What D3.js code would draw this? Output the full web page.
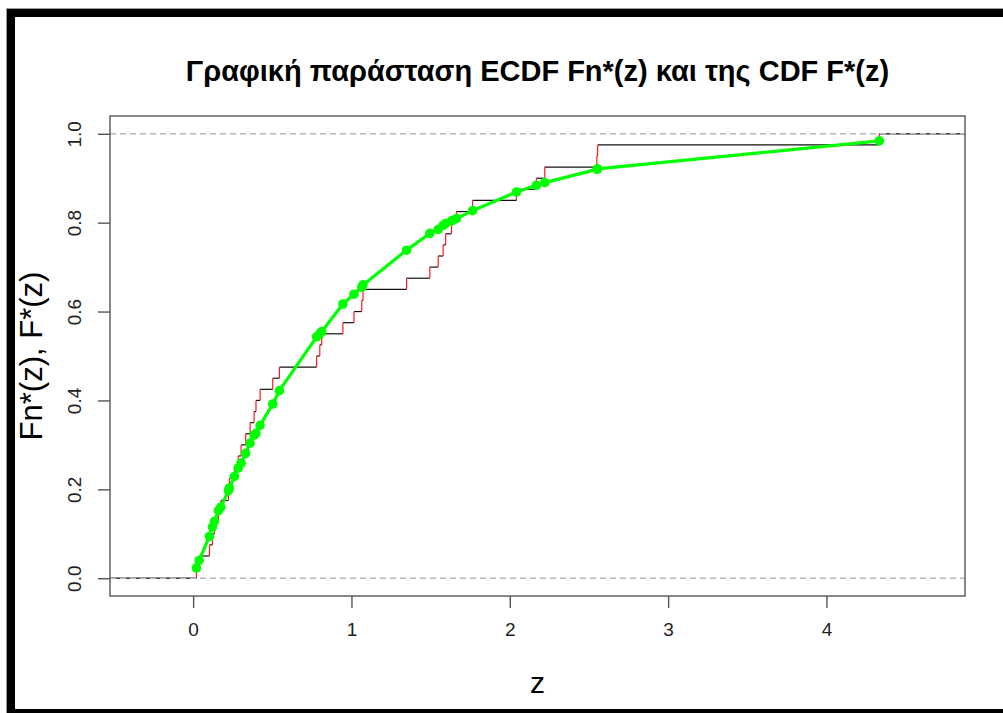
<!DOCTYPE html>
<html>
<head>
<meta charset="utf-8">
<script src="https://cdn.jsdelivr.net/npm/d3@7"></script>
<style>
  html, body { margin: 0; padding: 0; background: #fff; }
  svg { display: block; font-family: "Liberation Sans", Arial, sans-serif; }
</style>
</head>
<body>
<svg id="chart" width="1003" height="713"></svg>
<script>
// Sorted sample z and the fitted CDF F*(z) at each sample point
const sampleZ = [0.021, 0.038, 0.103, 0.122, 0.135, 0.160, 0.175, 0.223, 0.229, 0.261,
                 0.285, 0.303, 0.332, 0.360, 0.385, 0.397, 0.423, 0.503, 0.545, 0.780,
                 0.800, 0.812, 0.946, 1.016, 1.065, 1.073, 1.348, 1.495, 1.548, 1.579,
                 1.595, 1.632, 1.663, 1.765, 2.042, 2.168, 2.221, 2.550, 2.555, 4.334];
const cdfValues = [0.023, 0.040, 0.094, 0.115, 0.128, 0.152, 0.160, 0.197, 0.203, 0.229,
                   0.248, 0.259, 0.281, 0.304, 0.322, 0.326, 0.344, 0.392, 0.422, 0.543,
                   0.550, 0.555, 0.617, 0.639, 0.655, 0.660, 0.738, 0.776, 0.785, 0.794,
                   0.798, 0.804, 0.809, 0.827, 0.869, 0.884, 0.890, 0.920, 0.921, 0.984];
const xTicks = [0, 1, 2, 3, 4];
const yTicks = [0, 0.2, 0.4, 0.6, 0.8, 1.0];
const yTickLabels = ["0.0", "0.2", "0.4", "0.6", "0.8", "1.0"];
const refLevels = [0, 1];

const titleText = "Γραφική παράσταση ECDF Fn*(z) και της CDF F*(z)";
const xLabel = "z";
const yLabel = "Fn*(z), F*(z)";

const svg = d3.select("#chart");
const plot = { left: 110, right: 965, top: 116, bottom: 596 };

// outer frame
svg.append("rect").attr("x", 6.5).attr("y", 8.5).attr("width", 1100).attr("height", 800)
  .attr("fill", "none").attr("stroke", "#9a9a9a").attr("stroke-width", 1);
svg.append("rect").attr("x", 11).attr("y", 13).attr("width", 1100).attr("height", 700)
  .attr("fill", "#fff").attr("stroke", "#000").attr("stroke-width", 8);

const x = d3.scaleLinear().domain([-0.525, 4.875]).range([plot.left, plot.right]);
const y = d3.scaleLinear().domain([-0.04, 1.04]).range([plot.bottom, plot.top]);

svg.append("clipPath").attr("id", "plotClip").append("rect")
  .attr("x", plot.left).attr("y", plot.top)
  .attr("width", plot.right - plot.left).attr("height", plot.bottom - plot.top);

const g = svg.append("g").attr("clip-path", "url(#plotClip)");

// empirical CDF: horizontal steps
const n = sampleZ.length;
const [x0, x1] = x.domain();
const edges = [x0 - 1].concat(sampleZ, [x1 + 1]);
const steps = d3.range(n + 1).map(i => ({ a: edges[i], b: edges[i + 1], level: i / n }));
g.selectAll("line.step").data(steps).join("line").attr("class", "step")
  .attr("x1", d => x(d.a)).attr("x2", d => x(d.b))
  .attr("y1", d => y(d.level)).attr("y2", d => y(d.level))
  .attr("stroke", "#111").attr("stroke-width", 1.2);

// vertical jumps
g.selectAll("line.jump").data(sampleZ).join("line").attr("class", "jump")
  .attr("x1", d => x(d)).attr("x2", d => x(d))
  .attr("y1", (d, i) => y(i / n)).attr("y2", (d, i) => y((i + 1) / n))
  .attr("stroke", "#ff1a1a").attr("stroke-width", 1.2);

// reference lines at 0 and 1
g.selectAll("line.ref").data(refLevels).join("line").attr("class", "ref")
  .attr("x1", plot.left).attr("x2", plot.right)
  .attr("y1", d => y(d)).attr("y2", d => y(d))
  .attr("stroke", "#b8b8b8").attr("stroke-width", 1.4).attr("stroke-dasharray", "6,4");

// theoretical CDF
const pts = sampleZ.map((z, i) => [z, cdfValues[i]]);
g.append("path").datum(pts)
  .attr("d", d3.line().x(d => x(d[0])).y(d => y(d[1])))
  .attr("fill", "none").attr("stroke", "#00ff00").attr("stroke-width", 3.2)
  .attr("stroke-linejoin", "round");
g.selectAll("circle.pt").data(pts).join("circle").attr("class", "pt")
  .attr("cx", d => x(d[0])).attr("cy", d => y(d[1])).attr("r", 4.8)
  .attr("fill", "#00ff00");

// plot box
svg.append("rect").attr("x", plot.left).attr("y", plot.top)
  .attr("width", plot.right - plot.left).attr("height", plot.bottom - plot.top)
  .attr("fill", "none").attr("stroke", "#555").attr("stroke-width", 1.4);

// axes
const xAxis = svg.append("g").attr("transform", `translate(0,${plot.bottom})`)
  .call(d3.axisBottom(x).tickValues(xTicks).tickSize(12).tickSizeOuter(0).tickPadding(15)
    .tickFormat(d3.format("d")));
xAxis.select(".domain").remove();
xAxis.selectAll(".tick line").attr("stroke", "#555").attr("stroke-width", 1.4);
xAxis.selectAll(".tick text").attr("font-size", 19).attr("fill", "#222")
  .attr("font-family", "Liberation Sans, Arial, sans-serif");

const yAxis = svg.append("g").attr("transform", `translate(${plot.left},0)`)
  .call(d3.axisLeft(y).tickValues(yTicks).tickSize(12).tickSizeOuter(0)
    .tickFormat((d, i) => yTickLabels[i]));
yAxis.select(".domain").remove();
yAxis.selectAll(".tick line").attr("stroke", "#555").attr("stroke-width", 1.4);
yAxis.selectAll(".tick text")
  .attr("x", null).attr("dy", null)
  .attr("transform", "translate(-29,0) rotate(-90)")
  .attr("text-anchor", "middle")
  .attr("font-size", 19).attr("fill", "#222")
  .attr("font-family", "Liberation Sans, Arial, sans-serif");

// titles
svg.append("text").attr("x", (plot.left + plot.right) / 2).attr("y", 81)
  .attr("text-anchor", "middle").attr("font-size", 29).attr("font-weight", "bold")
  .attr("fill", "#000").text(titleText);
svg.append("text").attr("x", (plot.left + plot.right) / 2).attr("y", 693)
  .attr("text-anchor", "middle").attr("font-size", 30).attr("fill", "#000").text(xLabel);
svg.append("text").attr("transform", `translate(42,${(plot.top + plot.bottom) / 2}) rotate(-90)`)
  .attr("text-anchor", "middle").attr("font-size", 31).attr("fill", "#000").text(yLabel);
</script>
</body>
</html>
